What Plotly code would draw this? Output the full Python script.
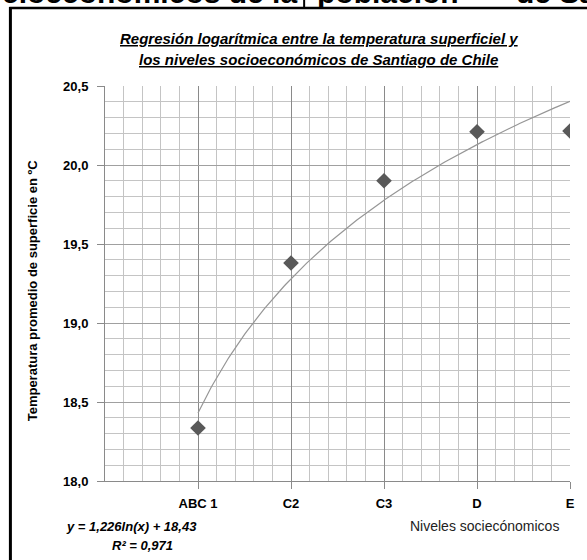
import numpy as np
import plotly.graph_objects as go

# ---- data ----
categories = ["ABC 1", "C2", "C3", "D", "E"]
x_pos = [1, 2, 3, 4, 5]
temperatures = [18.335, 19.38, 19.90, 20.21, 20.215]
# regression coefficients shown in the chart label
coef_a = 1.226
coef_b = 18.43
r_squared = 0.971

# ---- layout geometry (pixels) ----
FW, FH = 587, 560
L, R, T, B = 105, 572, 86, 481
W, H = R - L, B - T


def px(x):
    return (x - L) / W


def py(y):
    return (B - y) / H


FONT = "Liberation Sans"

fig = go.Figure()

# trend line
xs = np.linspace(1, 5, 200)
fig.add_trace(go.Scatter(
    x=xs, y=coef_a * np.log(xs) + coef_b, mode="lines",
    line=dict(color="#969696", width=1.2), hoverinfo="skip", showlegend=False))

# data points
fig.add_trace(go.Scatter(
    x=x_pos, y=temperatures, mode="markers",
    marker=dict(symbol="diamond", size=12, color="#595959"),
    showlegend=False))

fig.update_layout(
    width=FW, height=FH,
    margin=dict(l=L, r=FW - R, t=T, b=FH - B),
    paper_bgcolor="white", plot_bgcolor="white",
    separators=",.",
    font=dict(family=FONT, color="#000"),
    xaxis=dict(
        range=[0, 5], tickvals=x_pos, ticktext=categories,
        showgrid=True, gridcolor="#8a8a8a", gridwidth=1,
        minor=dict(dtick=0.2, tick0=0, showgrid=True, gridcolor="#c4c4c4", gridwidth=1),
        showline=True, linecolor="#8a8a8a", linewidth=1,
        ticks="outside", ticklen=7, tickcolor="#8a8a8a",
        ticklabelstandoff=3,
        tickfont=dict(size=13, weight="bold", family=FONT, color="#000"),
        zeroline=False, fixedrange=True,
    ),
    yaxis=dict(
        range=[18.0, 20.5], dtick=0.5, tick0=18.0, tickformat=".1f",
        showgrid=True, gridcolor="#a0a0a0", gridwidth=1,
        minor=dict(dtick=0.1, tick0=18.0, showgrid=True, gridcolor="#c4c4c4", gridwidth=1),
        showline=True, linecolor="#8a8a8a", linewidth=1,
        ticks="outside", ticklen=7, tickcolor="#8a8a8a",
        ticklabelstandoff=6,
        tickfont=dict(size=13, weight="bold", family=FONT, color="#000"),
        zeroline=False, fixedrange=True,
    ),
)

ann = []
# chart title
ann.append(dict(x=px(320), y=py(38), xref="paper", yref="paper", showarrow=False,
                text="<b><i><u>Regresión logarítmica entre la temperatura superficiel y</u></i></b>",
                font=dict(size=15, family=FONT, color="#000"), xanchor="center", yanchor="middle"))
ann.append(dict(x=px(319), y=py(59), xref="paper", yref="paper", showarrow=False,
                text="<b><i><u>los niveles socioeconómicos de Santiago de Chile</u></i></b>",
                font=dict(size=15, family=FONT, color="#000"), xanchor="center", yanchor="middle"))
# y axis title
ann.append(dict(x=px(32), y=py(290), xref="paper", yref="paper", showarrow=False,
                text="<b>Temperatura promedio de superficie en ºC</b>", textangle=-90,
                font=dict(size=13, family=FONT, color="#000"), xanchor="center", yanchor="middle"))
# x axis title
ann.append(dict(x=px(486), y=py(526), xref="paper", yref="paper", showarrow=False,
                text="Niveles sociecónomicos",
                font=dict(size=14, family=FONT, color="#222"), xanchor="center", yanchor="middle"))
# equation
eq1 = "y = " + f"{coef_a:.3f}".replace(".", ",") + "ln(x) + " + f"{coef_b:.2f}".replace(".", ",")
eq2 = "R² = " + f"{r_squared:.3f}".replace(".", ",")
ann.append(dict(x=px(132), y=py(526), xref="paper", yref="paper", showarrow=False,
                text=f"<b><i>{eq1}</i></b>",
                font=dict(size=13, family=FONT, color="#000"), xanchor="center", yanchor="middle"))
ann.append(dict(x=px(143), y=py(545), xref="paper", yref="paper", showarrow=False,
                text=f"<b><i>{eq2}</i></b>",
                font=dict(size=13, family=FONT, color="#000"), xanchor="center", yanchor="middle"))
# cut-off document heading at the very top
HEAD_Y = 11
ann.append(dict(x=px(300), y=py(HEAD_Y), xref="paper", yref="paper", showarrow=False,
                text="<b>socioeconómicos de la</b>",
                font=dict(size=30, family=FONT, color="#000"), xanchor="right", yanchor="bottom"))
ann.append(dict(x=px(316), y=py(HEAD_Y), xref="paper", yref="paper", showarrow=False,
                text="<b>población</b>",
                font=dict(size=30, family=FONT, color="#000"), xanchor="left", yanchor="bottom"))
ann.append(dict(x=px(516), y=py(HEAD_Y), xref="paper", yref="paper", showarrow=False,
                text="<b>de Santiago</b>",
                font=dict(size=30, family=FONT, color="#000"), xanchor="left", yanchor="bottom"))
fig.update_layout(annotations=ann)

shapes = [
    dict(type="rect", xref="paper", yref="paper", x0=px(-5), x1=px(600), y0=py(8), y1=py(600),
         fillcolor="white", line=dict(width=0), layer="below"),
    dict(type="line", xref="paper", yref="paper", x0=px(9), x1=px(590), y0=py(8), y1=py(8),
         line=dict(color="#000", width=2.5)),
    dict(type="line", xref="paper", yref="paper", x0=px(10), x1=px(10), y0=py(7), y1=py(565),
         line=dict(color="#000", width=3)),
    dict(type="line", xref="paper", yref="paper", x0=px(305), x1=px(305), y0=py(-5), y1=py(8),
         line=dict(color="#000", width=2)),
]
fig.update_layout(shapes=shapes)

fig.write_html("out.html", post_script="document.body.style.margin='0';",
               config={"displayModeBar": False})
